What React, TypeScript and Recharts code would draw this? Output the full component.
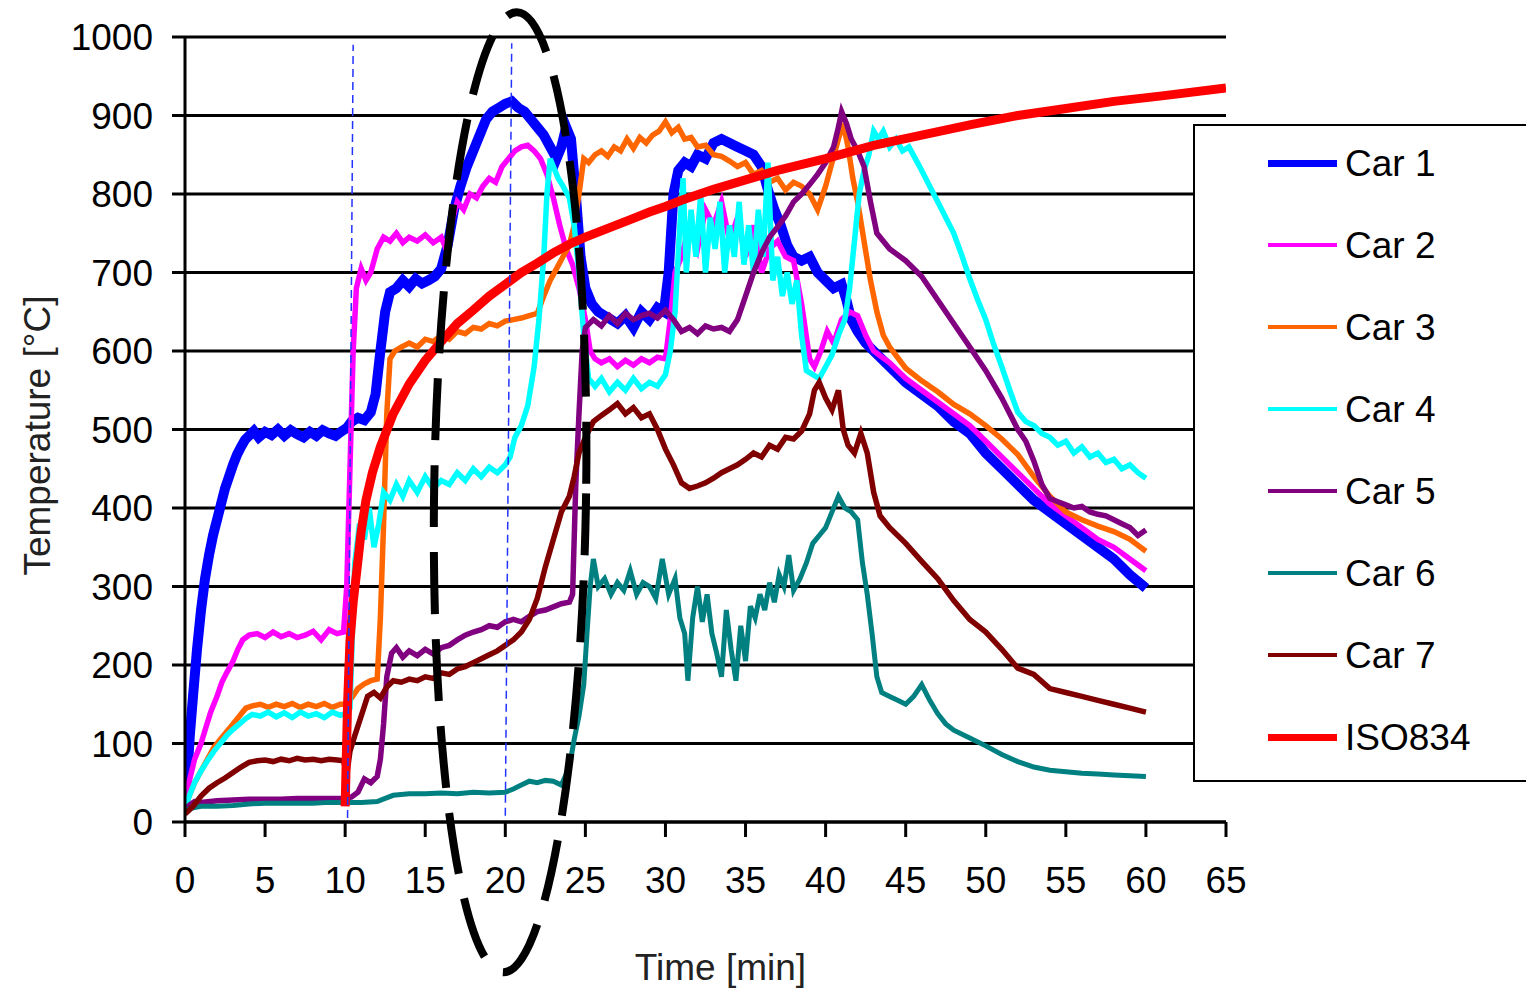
import React from "react";
import {
  LineChart,
  Line,
  XAxis,
  YAxis,
  CartesianGrid,
  ReferenceLine,
  ReferenceDot,
  Label,
} from "recharts";

type Pt = [number, number];

// time [min], temperature [ºC]
const car1: Pt[] = [
  [0, 25], [0.15, 60], [0.3, 110], [0.5, 160], [0.75, 220], [1, 270], [1.25, 310], [1.5, 340],
  [1.75, 365], [2, 385], [2.25, 405], [2.5, 425], [2.75, 440], [3, 455], [3.25, 468], [3.5, 478],
  [3.75, 487], [4, 492], [4.3, 498], [4.6, 490], [5, 497], [5.4, 493], [5.8, 500], [6.2, 492],
  [6.6, 499], [7, 494], [7.4, 490], [7.8, 497], [8.2, 492], [8.6, 499], [9, 495], [9.4, 492],
  [9.8, 498], [10.1, 502], [10.4, 510], [10.8, 515], [11.2, 512], [11.6, 522], [11.9, 545],
  [12.2, 600], [12.5, 650], [12.8, 675], [13.2, 680], [13.6, 690], [14, 682], [14.4, 692],
  [14.8, 686], [15.2, 690], [15.6, 695], [16, 705], [16.4, 735], [16.8, 780], [17.2, 810],
  [17.6, 835], [18, 855], [18.4, 875], [18.8, 895], [19.2, 905], [19.6, 910], [20, 915],
  [20.4, 918], [20.8, 910], [21.2, 905], [21.6, 895], [22, 885], [22.4, 875], [22.8, 860],
  [23.2, 845], [23.5, 860], [23.8, 885], [24.1, 870], [24.4, 800], [24.7, 720], [25, 680],
  [25.4, 660], [25.8, 650], [26.2, 645], [26.6, 640], [27, 635], [27.5, 645], [28, 630],
  [28.5, 650], [29, 640], [29.5, 655], [29.9, 650], [30.2, 700], [30.5, 800], [30.8, 830],
  [31.2, 840], [31.6, 835], [32, 850], [32.5, 845], [33, 865], [33.5, 870], [34, 865],
  [34.5, 860], [35, 855], [35.5, 850], [36, 835], [36.4, 805], [36.8, 780], [37.2, 760],
  [37.6, 735], [38, 720], [38.5, 715], [39, 720], [39.5, 700], [40, 690], [40.5, 680],
  [41, 685], [41.3, 665], [41.6, 640], [42, 625], [42.5, 610], [43, 600], [44, 580], [45, 560],
  [46, 545], [47, 530], [48, 510], [49, 495], [50, 470], [51, 450], [52, 430], [53, 410],
  [54, 395], [55, 380], [56, 365], [57, 350], [58, 335], [59, 315], [60, 298],
];

const car2: Pt[] = [
  [0, 30], [0.3, 55], [0.6, 80], [1, 100], [1.3, 120], [1.6, 140], [2, 160], [2.3, 178],
  [2.6, 190], [3, 205], [3.3, 220], [3.6, 232], [4, 238], [4.5, 240], [5, 235], [5.5, 242],
  [6, 236], [6.5, 240], [7, 235], [7.5, 238], [8, 243], [8.5, 232], [9, 245], [9.5, 240],
  [9.9, 242], [10.1, 300], [10.3, 450], [10.5, 600], [10.7, 680], [11, 705], [11.3, 690],
  [11.6, 700], [12, 730], [12.4, 745], [12.8, 740], [13.2, 750], [13.6, 738], [14, 745],
  [14.5, 740], [15, 748], [15.5, 738], [16, 745], [16.3, 730], [16.6, 760], [17, 790],
  [17.4, 780], [17.8, 800], [18.2, 795], [18.6, 810], [19, 820], [19.4, 815], [19.8, 835],
  [20.2, 845], [20.6, 855], [21, 860], [21.4, 862], [21.8, 855], [22.2, 845], [22.6, 825],
  [23, 795], [23.4, 760], [23.8, 730], [24.2, 710], [24.6, 680], [25, 640], [25.3, 600],
  [25.6, 590], [26, 585], [26.5, 590], [27, 580], [27.5, 588], [28, 582], [28.5, 590],
  [29, 585], [29.5, 592], [30, 590], [30.3, 640], [30.6, 700], [31, 720], [31.5, 760],
  [32, 730], [32.5, 780], [33, 760], [33.5, 790], [34, 740], [34.5, 770], [35, 720],
  [35.5, 760], [36, 700], [36.5, 730], [37, 740], [37.5, 720], [38, 715], [38.5, 660],
  [39, 590], [39.3, 580], [39.7, 600], [40.1, 625], [40.5, 610], [41, 640], [41.5, 650],
  [42, 645], [42.5, 620], [43, 600], [44, 585], [45, 565], [46, 550], [47, 535], [48, 520],
  [49, 505], [50, 485], [51, 465], [52, 445], [53, 425], [54, 405], [55, 390], [56, 375],
  [57, 360], [58, 350], [59, 335], [60, 320],
];

const car3: Pt[] = [
  [0, 20], [0.3, 35], [0.6, 50], [1, 65], [1.4, 80], [1.8, 95], [2.2, 105], [2.6, 115],
  [3, 125], [3.4, 135], [3.8, 145], [4.2, 148], [4.7, 150], [5.2, 146], [5.7, 150], [6.2, 147],
  [6.7, 151], [7.2, 146], [7.7, 150], [8.2, 147], [8.7, 151], [9.2, 146], [9.7, 150], [10, 150],
  [10.4, 158], [10.8, 170], [11.2, 176], [11.6, 180], [12, 182], [12.2, 260], [12.4, 380],
  [12.6, 520], [12.8, 590], [13.1, 600], [13.5, 605], [14, 610], [14.5, 605], [15, 615],
  [15.5, 612], [16, 620], [16.5, 615], [17, 625], [17.5, 622], [18, 630], [18.5, 628],
  [19, 635], [19.5, 632], [20, 638], [20.5, 640], [21, 642], [21.5, 645], [22, 648],
  [22.4, 670], [22.8, 690], [23.2, 705], [23.6, 720], [24, 735], [24.3, 760], [24.6, 800],
  [24.9, 845], [25.2, 840], [25.6, 850], [26, 855], [26.4, 848], [26.8, 860], [27.2, 855],
  [27.6, 870], [28, 858], [28.4, 872], [28.8, 865], [29.2, 875], [29.6, 880], [30, 892],
  [30.4, 878], [30.8, 885], [31.2, 870], [31.6, 872], [32, 860], [32.5, 862], [33, 850],
  [33.5, 848], [34, 842], [34.5, 835], [35, 840], [35.5, 825], [36, 830], [36.5, 815],
  [37, 820], [37.5, 805], [38, 815], [38.5, 810], [39, 800], [39.5, 780], [40, 810],
  [40.4, 840], [40.8, 870], [41.1, 890], [41.4, 860], [41.7, 820], [42, 790], [42.4, 740],
  [42.8, 690], [43.2, 650], [43.6, 620], [44, 605], [45, 578], [46, 562], [47, 548],
  [48, 532], [49, 520], [50, 505], [51, 488], [52, 468], [53, 440], [54, 415], [55, 395],
  [56, 385], [57, 377], [58, 370], [59, 360], [60, 345],
];

const car4: Pt[] = [
  [0, 18], [0.3, 35], [0.6, 50], [1, 65], [1.4, 78], [1.8, 90], [2.2, 100], [2.6, 110],
  [3, 118], [3.4, 125], [3.8, 132], [4.2, 137], [4.7, 135], [5.2, 140], [5.7, 134], [6.2, 139],
  [6.7, 133], [7.2, 140], [7.7, 135], [8.2, 138], [8.7, 133], [9.2, 140], [9.7, 136], [10, 138],
  [10.3, 145], [10.6, 330], [10.9, 380], [11.2, 360], [11.5, 400], [11.8, 350], [12.1, 380],
  [12.4, 420], [12.8, 410], [13.2, 430], [13.6, 415], [14, 435], [14.5, 420], [15, 440],
  [15.5, 425], [16, 435], [16.5, 430], [17, 445], [17.5, 435], [18, 450], [18.5, 440],
  [19, 452], [19.5, 445], [20, 455], [20.3, 465], [20.6, 490], [21, 505], [21.4, 530],
  [21.8, 580], [22.1, 640], [22.4, 720], [22.6, 800], [22.8, 845], [23, 835], [23.3, 820],
  [23.6, 810], [24, 795], [24.3, 760], [24.6, 700], [24.9, 620], [25.2, 565], [25.6, 555],
  [26, 565], [26.5, 548], [27, 560], [27.5, 550], [28, 565], [28.5, 552], [29, 560],
  [29.5, 555], [30, 570], [30.3, 600], [30.6, 650], [30.9, 760], [31.1, 820], [31.3, 700],
  [31.6, 780], [31.9, 720], [32.2, 800], [32.5, 700], [32.8, 770], [33.1, 730], [33.4, 790],
  [33.7, 700], [34, 760], [34.3, 720], [34.6, 790], [34.9, 710], [35.2, 760], [35.5, 700],
  [35.8, 780], [36.1, 720], [36.4, 840], [36.7, 690], [37, 720], [37.3, 670], [37.6, 700],
  [37.9, 660], [38.2, 690], [38.5, 620], [38.8, 575], [39.2, 570], [39.6, 565], [40, 580],
  [40.4, 595], [40.8, 620], [41.2, 640], [41.5, 680], [41.8, 740], [42.1, 800], [42.4, 830],
  [42.7, 850], [43, 880], [43.3, 870], [43.6, 880], [44, 860], [44.4, 870], [44.8, 855],
  [45.2, 860], [45.6, 845], [46, 830], [46.5, 810], [47, 790], [47.5, 770], [48, 750],
  [48.5, 722], [49, 692], [49.5, 665], [50, 640], [50.5, 608], [51, 580], [51.5, 550],
  [52, 522], [52.5, 510], [53, 505], [53.5, 495], [54, 490], [54.5, 480], [55, 485],
  [55.5, 470], [56, 478], [56.5, 465], [57, 470], [57.5, 458], [58, 462], [58.5, 450],
  [59, 455], [59.5, 445], [60, 438],
];

const car5: Pt[] = [
  [0, 15], [0.3, 22], [0.6, 26], [1, 25], [2, 27], [3, 28], [4, 29], [5, 29], [6, 29], [7, 30],
  [8, 30], [9, 30], [10, 30], [10.4, 32], [10.8, 38], [11.2, 55], [11.6, 50], [12, 58],
  [12.2, 80], [12.4, 125], [12.6, 185], [12.9, 215], [13.2, 222], [13.6, 210], [14, 218],
  [14.5, 212], [15, 220], [15.5, 214], [16, 222], [16.5, 225], [17, 232], [17.5, 238],
  [18, 242], [18.5, 245], [19, 250], [19.5, 248], [20, 255], [20.5, 258], [21, 255],
  [21.5, 262], [22, 268], [22.5, 270], [23, 274], [23.5, 278], [24, 280], [24.2, 290],
  [24.4, 430], [24.6, 520], [24.8, 600], [25, 630], [25.5, 640], [26, 632], [26.5, 645],
  [27, 635], [27.5, 648], [28, 640], [28.5, 645], [29, 648], [29.5, 642], [30, 652],
  [30.5, 640], [31, 625], [31.5, 630], [32, 622], [32.5, 632], [33, 628], [33.5, 630],
  [34, 625], [34.5, 640], [35, 670], [35.5, 700], [36, 725], [36.5, 745], [37, 758],
  [37.5, 772], [38, 790], [38.5, 800], [39, 812], [39.5, 825], [40, 840], [40.5, 860],
  [40.8, 885], [41, 905], [41.3, 890], [41.6, 870], [42, 855], [42.4, 835], [42.8, 790],
  [43.2, 750], [44, 730], [45, 715], [46, 695], [47, 665], [48, 635], [49, 605], [50, 575],
  [51, 540], [52, 500], [52.5, 485], [53, 460], [53.5, 430], [54, 412], [54.5, 408],
  [55, 404], [55.5, 400], [56, 402], [56.5, 395], [57, 392], [57.5, 390], [58, 385],
  [58.5, 380], [59, 375], [59.5, 365], [60, 372],
];

const car6: Pt[] = [
  [0, 15], [0.5, 18], [1, 20], [2, 20], [3, 21], [4, 23], [5, 24], [6, 24], [7, 24], [8, 24],
  [9, 25], [10, 25], [11, 25], [12, 26], [12.5, 30], [13, 34], [14, 36], [15, 36], [16, 37],
  [17, 36], [18, 38], [19, 37], [20, 38], [20.5, 42], [21, 47], [21.5, 52], [22, 50],
  [22.5, 53], [23, 52], [23.5, 47], [24, 70], [24.3, 105], [24.6, 135], [24.9, 175],
  [25.1, 240], [25.3, 300], [25.5, 335], [25.8, 300], [26.2, 310], [26.6, 290], [27, 305],
  [27.4, 295], [27.8, 320], [28.2, 290], [28.6, 305], [29, 300], [29.4, 285], [29.8, 335],
  [30.2, 290], [30.6, 310], [30.9, 260], [31.2, 240], [31.4, 180], [31.7, 260], [32, 300],
  [32.3, 255], [32.6, 290], [32.9, 240], [33.2, 215], [33.5, 185], [33.8, 270], [34.1, 220],
  [34.4, 180], [34.7, 250], [35, 205], [35.3, 275], [35.6, 260], [35.9, 290], [36.2, 270],
  [36.5, 305], [36.8, 280], [37.1, 315], [37.4, 300], [37.7, 340], [38, 295], [38.4, 310],
  [38.8, 330], [39.2, 355], [39.6, 365], [40, 375], [40.4, 395], [40.8, 415], [41.2, 400],
  [41.6, 395], [42, 385], [42.3, 330], [42.6, 290], [42.9, 240], [43.2, 185], [43.5, 165],
  [44, 160], [44.5, 155], [45, 150], [45.5, 160], [46, 175], [46.5, 155], [47, 138],
  [47.5, 125], [48, 117], [49, 107], [50, 97], [51, 86], [52, 77], [53, 70], [54, 66],
  [55, 64], [56, 62], [57, 61], [58, 60], [59, 59], [60, 58],
];

const car7: Pt[] = [
  [0, 10], [0.5, 20], [1, 33], [1.5, 43], [2, 50], [2.5, 56], [3, 63], [3.5, 70], [4, 76],
  [4.5, 78], [5, 79], [5.5, 77], [6, 80], [6.5, 78], [7, 81], [7.5, 79], [8, 80], [8.5, 78],
  [9, 80], [9.5, 79], [9.9, 78], [10.1, 60], [10.3, 90], [10.6, 110], [11, 135], [11.4, 160],
  [11.8, 165], [12.2, 158], [12.6, 172], [13, 180], [13.5, 178], [14, 182], [14.5, 180],
  [15, 185], [15.5, 183], [16, 190], [16.5, 188], [17, 195], [17.5, 198], [18, 203],
  [18.5, 208], [19, 213], [19.5, 218], [20, 225], [20.5, 232], [21, 242], [21.5, 258],
  [22, 285], [22.5, 325], [23, 360], [23.5, 395], [24, 415], [24.3, 440], [24.6, 470],
  [25, 490], [25.5, 510], [26, 518], [26.5, 525], [27, 533], [27.5, 520], [28, 528],
  [28.5, 515], [29, 520], [29.5, 500], [30, 475], [30.5, 455], [31, 432], [31.5, 425],
  [32, 428], [32.5, 432], [33, 438], [33.5, 445], [34, 450], [34.5, 455], [35, 462],
  [35.5, 470], [36, 465], [36.5, 480], [37, 475], [37.5, 490], [38, 488], [38.5, 498],
  [39, 520], [39.3, 550], [39.6, 560], [40, 540], [40.4, 525], [40.8, 550], [41.1, 500],
  [41.4, 480], [41.8, 470], [42.2, 495], [42.6, 470], [43, 420], [43.4, 390], [44, 375],
  [45, 355], [46, 332], [47, 310], [48, 282], [49, 258], [50, 242], [51, 220], [52, 196],
  [53, 188], [54, 170], [55, 165], [56, 160], [57, 155], [58, 150], [59, 145], [60, 140],
];

const iso834: Pt[] = [
  [10, 20], [10.15, 150], [10.3, 230], [10.5, 280], [10.7, 315], [11, 370], [11.3, 410],
  [11.7, 445], [12.2, 478], [13, 520], [14, 558], [15, 588], [16, 612], [17, 635], [18, 652],
  [19, 670], [20, 685], [21, 700], [22, 712], [23, 725], [24, 736], [25, 745], [26, 753],
  [27, 761], [28, 769], [29, 777], [30, 784], [31, 792], [32, 799], [33, 806], [34, 812],
  [35, 818], [37, 830], [40, 845], [43, 862], [46, 875], [49, 888], [52, 900], [55, 909],
  [58, 918], [61, 925], [65, 935],
];

const xTicks = [0, 5, 10, 15, 20, 25, 30, 35, 40, 45, 50, 55, 60, 65];
const yTicks = [0, 100, 200, 300, 400, 500, 600, 700, 800, 900, 1000];

const series = [
  { name: "Car 1", points: car1, color: "#0000FF", width: 10, key: 7 },
  { name: "Car 2", points: car2, color: "#FF00FF", width: 5.5, key: 4 },
  { name: "Car 3", points: car3, color: "#FF6600", width: 5.5, key: 4 },
  { name: "Car 4", points: car4, color: "#00FFFF", width: 5.5, key: 4 },
  { name: "Car 5", points: car5, color: "#800080", width: 5.5, key: 4 },
  { name: "Car 6", points: car6, color: "#008080", width: 5, key: 4 },
  { name: "Car 7", points: car7, color: "#800000", width: 5.5, key: 4 },
  { name: "ISO834", points: iso834, color: "#FF0000", width: 9, key: 7 },
];

const FONT = '"Liberation Sans", Arial, sans-serif';

const toRows = (pts: Pt[]) => pts.map(([t, v]) => ({ t, v }));

const XTitle = (props: any) => {
  const vb = props.viewBox || { x: 185, y: 822, width: 1041, height: 166 };
  return (
    <text
      x={vb.x + vb.width / 2 + 15}
      y={vb.y + vb.height - 8}
      textAnchor="middle"
      fontSize={37}
      fill="#222"
    >
      Time [min]
    </text>
  );
};

const YTitle = (props: any) => {
  const vb = props.viewBox || { x: 0, y: 37, width: 185, height: 785 };
  const x = vb.x + 50;
  const y = vb.y + vb.height / 2 + 6;
  return (
    <text
      x={x}
      y={y}
      transform={`rotate(-90, ${x}, ${y})`}
      textAnchor="middle"
      fontSize={37}
      fill="#222"
    >
      Temperature [°C]
    </text>
  );
};

function LegendBox() {
  return (
    <div
      style={{
        position: "absolute",
        left: 1193,
        top: 124,
        width: 345,
        height: 658,
        border: "2px solid #000",
        background: "#fff",
        boxSizing: "border-box",
      }}
    >
      {series.map((s, i) => (
        <div
          key={s.name}
          style={{
            position: "absolute",
            left: 0,
            top: i * 82 - 4,
            height: 82,
            display: "flex",
            alignItems: "center",
          }}
        >
          <div style={{ marginLeft: 73, width: 69, height: s.key, background: s.color }} />
          <span style={{ marginLeft: 8, fontSize: 37, color: "#000", lineHeight: 1 }}>
            {s.name}
          </span>
        </div>
      ))}
    </div>
  );
}

export default function App() {
  return (
    <div
      style={{
        position: "absolute",
        left: 0,
        top: 0,
        width: 1526,
        height: 988,
        background: "#fff",
        fontFamily: FONT,
        overflow: "hidden",
      }}
    >
      <LineChart width={1526} height={988} margin={{ top: 37, right: 300, bottom: 0, left: 0 }}>
        <CartesianGrid vertical={false} stroke="#000" strokeWidth={3} />
        <XAxis
          type="number"
          dataKey="t"
          domain={[0, 65]}
          ticks={xTicks}
          interval={0}
          allowDataOverflow
          height={166}
          tickSize={15}
          tickMargin={30}
          axisLine={{ stroke: "#000", strokeWidth: 3 }}
          tickLine={{ stroke: "#000", strokeWidth: 3 }}
          tick={{ fill: "#000", fontSize: 37 }}
        >
          <Label content={XTitle} />
        </XAxis>
        <YAxis
          type="number"
          domain={[0, 1000]}
          ticks={yTicks}
          interval={0}
          allowDataOverflow
          width={185}
          tickSize={13}
          tickMargin={19}
          axisLine={{ stroke: "#000", strokeWidth: 3 }}
          tickLine={{ stroke: "#000", strokeWidth: 3 }}
          tick={{ fill: "#000", fontSize: 37 }}
        >
          <Label content={YTitle} />
        </YAxis>
        {series.map((s) => (
          <Line
            key={s.name}
            name={s.name}
            data={toRows(s.points)}
            dataKey="v"
            type="linear"
            stroke={s.color}
            strokeWidth={s.width}
            dot={false}
            activeDot={false}
            isAnimationActive={false}
          />
        ))}
        <ReferenceLine
          segment={[{ x: 10.15, y: 5 }, { x: 10.5, y: 990 }]}
          stroke="#2233ff"
          strokeWidth={1.5}
          strokeDasharray="8 5"
        />
        <ReferenceLine
          segment={[{ x: 20, y: 8 }, { x: 20.4, y: 992 }]}
          stroke="#2233ff"
          strokeWidth={1.5}
          strokeDasharray="8 5"
        />
        <ReferenceDot
          x={20.3}
          y={420}
          r={1}
          shape={(p: any) => (
            <ellipse
              cx={p.cx}
              cy={p.cy}
              rx={76}
              ry={480}
              transform={`rotate(0.8, ${p.cx}, ${p.cy})`}
              fill="none"
              stroke="#000"
              strokeWidth={8}
              strokeDasharray="62 25"
            />
          )}
        />
      </LineChart>
      <LegendBox />
    </div>
  );
}
